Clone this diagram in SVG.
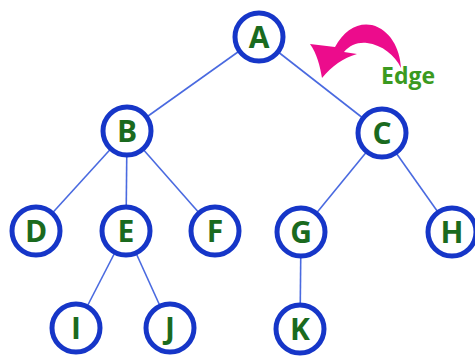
<svg xmlns="http://www.w3.org/2000/svg" width="475" height="356" viewBox="0 0 475 356">
<style>
.edge{stroke:#4a6ae0;stroke-width:1.6;fill:none}
.node circle{fill:#fff;stroke:#1636c8;stroke-width:5}
.node text{font-family:"Open Sans","Liberation Sans",sans-serif;font-weight:bold;font-size:30px;fill:#1a6a1e;text-anchor:middle}
.lbl{font-family:"Open Sans","Liberation Sans",sans-serif;font-weight:bold;font-size:23px;fill:#3b9a20}
</style>
<rect width="475" height="356" fill="#fff"/>
<g id="connectors">
<line class="edge" x1="259" y1="37" x2="127" y2="131"/>
<line class="edge" x1="259" y1="37" x2="382" y2="133"/>
<line class="edge" x1="127" y1="131" x2="36" y2="231"/>
<line class="edge" x1="127" y1="131" x2="126" y2="231"/>
<line class="edge" x1="127" y1="131" x2="215" y2="231"/>
<line class="edge" x1="382" y1="133" x2="301" y2="232"/>
<line class="edge" x1="382" y1="133" x2="452" y2="232"/>
<line class="edge" x1="126" y1="231" x2="76" y2="328"/>
<line class="edge" x1="126" y1="231" x2="170" y2="328"/>
<line class="edge" x1="301" y1="232" x2="300" y2="329"/>
</g>
<g id="node-A" class="node"><circle cx="259" cy="37" r="24"/><text x="259" y="48">A</text></g>
<g id="node-B" class="node"><circle cx="127" cy="131" r="24"/><text x="127" y="142">B</text></g>
<g id="node-C" class="node"><circle cx="382" cy="133" r="24"/><text x="382" y="144">C</text></g>
<g id="node-D" class="node"><circle cx="36" cy="231" r="24"/><text x="36" y="242">D</text></g>
<g id="node-E" class="node"><circle cx="126" cy="231" r="24"/><text x="126" y="242">E</text></g>
<g id="node-F" class="node"><circle cx="215" cy="231" r="24"/><text x="215" y="242">F</text></g>
<g id="node-G" class="node"><circle cx="301" cy="232" r="24"/><text x="301" y="243">G</text></g>
<g id="node-H" class="node"><circle cx="452" cy="232" r="24"/><text x="452" y="243">H</text></g>
<g id="node-I" class="node"><circle cx="76" cy="328" r="24"/><text x="76" y="339">I</text></g>
<g id="node-J" class="node"><circle cx="170" cy="328" r="24"/><text x="170" y="339">J</text></g>
<g id="node-K" class="node"><circle cx="300" cy="329" r="24"/><text x="300" y="340">K</text></g>
<g id="edge-label">
<path d="M401,68 C400,48 390,30 372,25 C358,22 344,30 335,47 L310,44 C317,54 320,66 322,78 C332,66 343,58 357,54 L344,52 C350,45 358,42 367,43 C382,45 395,55 401,68 Z" fill="#ec0c8c"/>
<text class="lbl" x="381" y="84">Edge</text>
</g>
</svg>
